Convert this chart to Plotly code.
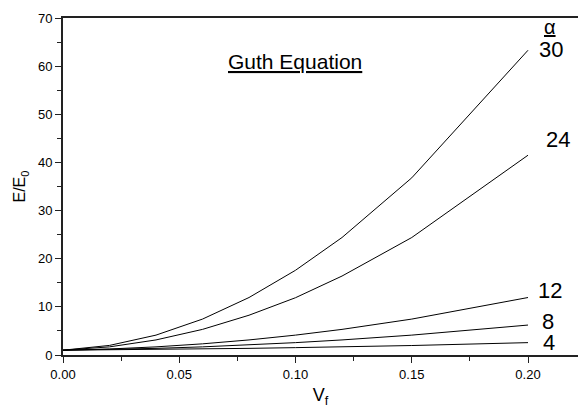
import plotly.graph_objects as go

vf = [0.0, 0.02, 0.04, 0.06, 0.08, 0.10, 0.12, 0.15, 0.20]
alpha_labels = ["30", "24", "12", "8", "4"]
e30 = [1.0, 1.99, 4.13, 7.46, 11.94, 17.6, 24.4, 36.8, 63.3]
e24 = [1.0, 1.69, 3.13, 5.32, 8.26, 11.9, 16.4, 24.4, 41.5]
e12 = [1.0, 1.25, 1.69, 2.32, 3.13, 4.13, 5.32, 7.46, 11.94]
e8 = [1.0, 1.15, 1.38, 1.69, 2.09, 2.57, 3.13, 4.13, 6.22]
e4 = [1.0, 1.06, 1.15, 1.25, 1.38, 1.53, 1.69, 1.97, 2.57]
series = [e30, e24, e12, e8, e4]

FONT = "Liberation Sans, Arial, sans-serif"
fig = go.Figure()
for lab, ys in zip(alpha_labels, series):
    fig.add_trace(go.Scatter(x=vf, y=ys, mode="lines", name=lab,
                             line=dict(color="black", width=1), showlegend=False))

# label anchor positions (data coords) next to line ends
label_pos = {"30": (0.2040, 63.4), "24": (0.2070, 44.7), "12": (0.2036, 13.5),
             "8": (0.2053, 7.06), "4": (0.2057, 2.7)}
for lab in alpha_labels:
    xx, yy = label_pos[lab]
    fig.add_annotation(x=xx, y=yy, text=lab, showarrow=False, xanchor="left",
                       yanchor="middle",
                       font=dict(family=FONT, size=22, color="black"))
fig.add_annotation(x=0.2095, y=68.2, text="<u>α</u>", showarrow=False, xanchor="center",
                   yanchor="middle", font=dict(family=FONT, size=20, color="black"))
fig.add_annotation(x=0.0998, y=61.0, text="<u>Guth Equation</u>", showarrow=False,
                   xanchor="center", yanchor="middle",
                   font=dict(family=FONT, size=21, color="black"))

fig.update_layout(
    width=578, height=412,
    margin=dict(l=63, r=0, t=18, b=57),
    plot_bgcolor="white", paper_bgcolor="white",
    font=dict(family=FONT, size=13, color="black"),
    xaxis=dict(range=[0, 0.2215], tickvals=[0, 0.05, 0.10, 0.15, 0.20],
               ticktext=["0.00", "0.05", "0.10", "0.15", "0.20"],
               showgrid=False, zeroline=False, showline=True, linecolor="#222",
               linewidth=2, mirror=True, ticks="outside", ticklen=6, tickwidth=1,
               tickcolor="#222",
               minor=dict(tickvals=[0.025, 0.075, 0.125, 0.175], ticks="outside",
                          ticklen=4, tickcolor="#222"),
               title=dict(text="V<sub>f</sub>", font=dict(size=18), standoff=8)),
    yaxis=dict(range=[0, 70], tickvals=[0, 10, 20, 30, 40, 50, 60, 70],
               showgrid=False, zeroline=False, showline=True, linecolor="#222",
               linewidth=2, ticks="outside", ticklen=6, tickwidth=1, tickcolor="#222",
               minor=dict(tickvals=[5, 15, 25, 35, 45, 55, 65], ticks="outside",
                          ticklen=4, tickcolor="#222"),
               title=dict(text="E/E<sub>0</sub>", font=dict(size=16), standoff=8)),
)
fig.write_html("out.html")
